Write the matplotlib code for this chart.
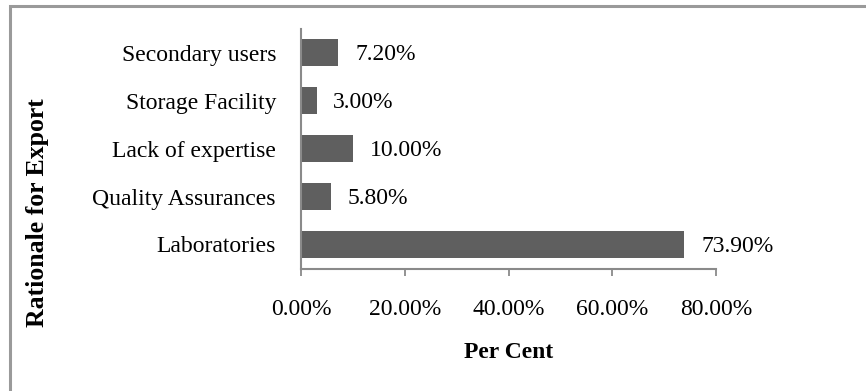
import matplotlib.pyplot as plt
from matplotlib.patches import Rectangle

# Survey results: reasons given for exporting samples (per cent of responses)
categories = ['Laboratories', 'Quality Assurances', 'Lack of expertise',
              'Storage Facility', 'Secondary users']
values = [73.9, 5.8, 10.0, 3.0, 7.2]
x_ticks = [0, 20, 40, 60, 80]
x_tick_labels = ['0.00%', '20.00%', '40.00%', '60.00%', '80.00%']

plt.rcParams['font.family'] = ['Liberation Serif', 'DejaVu Serif']

W, H = 866, 391
fig = plt.figure(figsize=(W / 100, H / 100), dpi=100)

# Plot area in pixels: x 301..716, y 28.5..268.5 (from top)
left, right, top, bottom = 301, 716, 28.5, 268.5
ax = fig.add_axes([left / W, 1 - bottom / H, (right - left) / W, (bottom - top) / H])

bar_color = '#5f5f5f'
axis_color = '#8a8a8a'
fs = 17

ax.barh(range(len(categories)), values, height=0.5625, color=bar_color)

for i, v in enumerate(values):
    ax.annotate(f'{v:.2f}%', xy=(v, i), xytext=(12, 0), textcoords='offset points',
                ha='left', va='center_baseline', fontsize=fs, color='black')

ax.set_xlim(0, 80)
ax.set_ylim(-0.5, len(categories) - 0.5)
ax.set_xticks(x_ticks)
ax.set_xticklabels(x_tick_labels, fontsize=fs)
ax.set_yticks(range(len(categories)))
ax.set_yticklabels(categories, fontsize=fs, va='center_baseline')

ax.tick_params(axis='y', length=0, pad=18)
ax.tick_params(axis='x', direction='out', length=5, width=1.3, color=axis_color, pad=17)

for side in ['top', 'right']:
    ax.spines[side].set_visible(False)
for side in ['left', 'bottom']:
    ax.spines[side].set_color(axis_color)
    ax.spines[side].set_linewidth(1.5)

# Axis titles
fig.text(509 / W, 1 - 353 / H, 'Per Cent', ha='center', va='center',
         fontsize=fs, fontweight='bold')
fig.text(38 / W, 1 - 213 / H, 'Rationale for Export', ha='center', va='center',
         rotation=90, fontsize=18.5, fontweight='bold')

# Outer chart frame
frame = Rectangle((9.5 / W, -0.05), 1.0, 1 - 5.5 / H + 0.05, transform=fig.transFigure,
                  fill=False, edgecolor='#9a9a9a', linewidth=2.2, clip_on=False)
fig.patches.append(frame)

fig.savefig('out.png', dpi=100, facecolor='white')
